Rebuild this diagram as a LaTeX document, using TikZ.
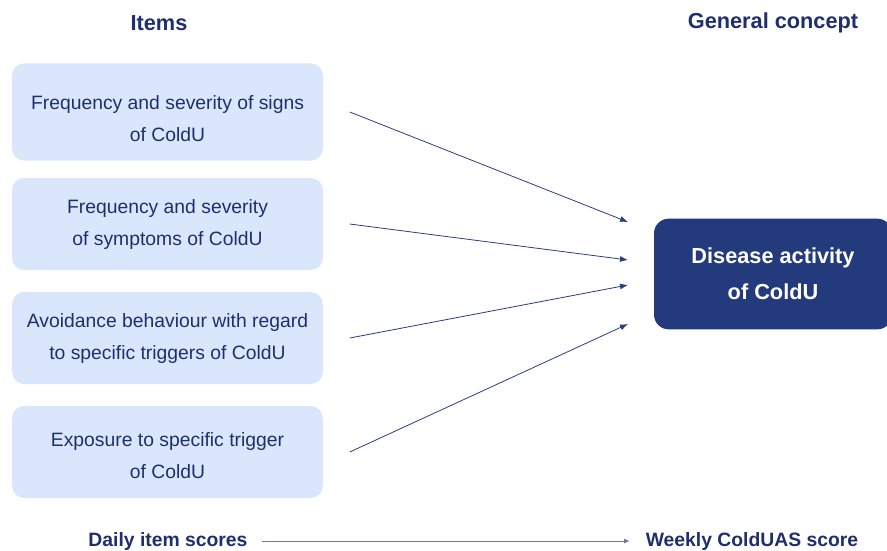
\documentclass[tikz,border=0pt]{standalone}
\usepackage{fontspec}
\setmainfont{Liberation Sans}
\usetikzlibrary{arrows.meta,positioning}
\definecolor{navy}{HTML}{1F2F6E}
\definecolor{darkbox}{HTML}{233A7D}
\definecolor{lightbox}{HTML}{DAE6FB}
\definecolor{arrowblue}{HTML}{2B3E80}
\tikzset{
  itembox/.style={fill=lightbox, rounded corners=9pt, minimum width=233pt, align=center,
    text=navy, font=\fontsize{14.5}{24}\selectfont, inner sep=0pt},
  conceptbox/.style={fill=darkbox, rounded corners=11pt, minimum width=178.5pt, minimum height=83pt,
    align=center, text=white, font=\fontsize{16.3}{27}\selectfont\bfseries, inner sep=0pt},
  heading/.style={text=navy, font=\fontsize{16.3}{18}\selectfont\bfseries, inner sep=0pt},
  score/.style={text=navy, font=\fontsize{14.5}{16}\selectfont\bfseries, inner sep=0pt},
  arr/.style={arrowblue, semithick, -{Latex[length=6pt,width=4.5pt]}},
}
\begin{document}
\begin{tikzpicture}[x=0.75pt,y=-0.75pt]
\useasboundingbox (0,0) rectangle (887,550);

% headings
\node[heading] (items) at (159,23) {Items};
\node[heading] (general) at (773,23) {General concept};

% item boxes (a taller text height sets the text a bit lower)
\node[itembox, minimum height=73pt, text height=45pt] (i1) at (167.5,112) {Frequency and severity of signs\\of ColdU};
\node[itembox, minimum height=69pt] (i2) at (167.5,224) {Frequency and severity\\of symptoms of ColdU};
\node[itembox, minimum height=69pt] (i3) at (167.5,338) {Avoidance behaviour with regard\\to specific triggers of ColdU};
\node[itembox, minimum height=69pt, text height=40.5pt] (i4) at (167.5,452) {Exposure to specific trigger\\of ColdU};

% concept box, runs off the right edge
\node[conceptbox] (dis) at (773,274) {Disease activity\\of ColdU};

% arrow ends
\coordinate[right=20pt of i1] (s1);
\coordinate[right=20pt of i2] (s2);
\coordinate[right=20pt of i3] (s3);
\coordinate[right=20pt of i4] (s4);
\coordinate (t1) at (628,222);
\coordinate (t2) at (628,260);
\coordinate (t3) at (628,285);
\coordinate (t4) at (628,324);

\draw[arr] (s1) -- (t1);
\draw[arr] (s2) -- (t2);
\draw[arr] (s3) -- (t3);
\draw[arr] (s4) -- (t4);

% bottom line
\node[score] (daily) at (168,541) {Daily item scores};
\node[score] (weekly) at (752,541) {Weekly ColdUAS score};
\draw[arrowblue!70, thin, -{Latex[length=4pt,width=3.5pt]}, shorten <=11pt, shorten >=12pt] (daily.east) -- (weekly.west);
\end{tikzpicture}
\end{document}
